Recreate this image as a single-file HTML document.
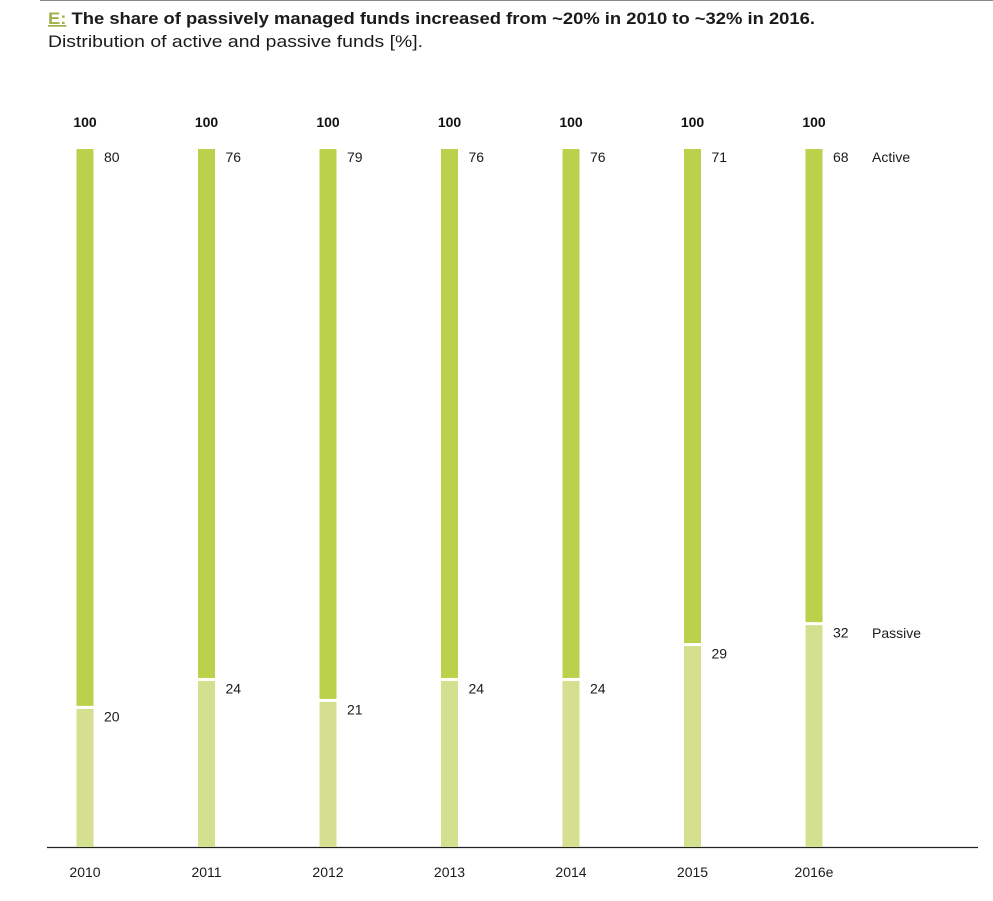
<!DOCTYPE html>
<html><head><meta charset="utf-8"><style>
html,body{margin:0;padding:0;background:#fff;}
svg{display:block;font-family:"Liberation Sans",sans-serif;}
</style></head><body>
<svg width="993" height="901" viewBox="0 0 993 901" xmlns="http://www.w3.org/2000/svg">
<line x1="40" y1="0.5" x2="993" y2="0.5" stroke="#888" stroke-width="1"/>
<text x="48" y="24" font-size="17" font-weight="bold" fill="#1a1a1a" textLength="767" lengthAdjust="spacingAndGlyphs"><tspan fill="#9fb24a" text-decoration="underline">E:</tspan> The share of passively managed funds increased from ~20% in 2010 to ~32% in 2016.</text>
<text x="48" y="47" font-size="17" fill="#1a1a1a" textLength="375" lengthAdjust="spacingAndGlyphs">Distribution of active and passive funds [%].</text>
<g id="bars"></g>
<line x1="47" y1="847.5" x2="978" y2="847.5" stroke="#222" stroke-width="1.2"/>
<g font-size="14" fill="#1a1a1a">
<!-- generated below -->
</g>
<script>
const s=document.querySelector('svg');
const ns='http://www.w3.org/2000/svg';
const years=['2010','2011','2012','2013','2014','2015','2016e'];
const pas=[20,24,21,24,24,29,32];
const act=[80,76,79,76,76,71,68];
function el(t,a,txt){const e=document.createElementNS(ns,t);for(const k in a)e.setAttribute(k,a[k]);if(txt!==undefined)e.textContent=txt;s.appendChild(e);return e;}
for(let i=0;i<7;i++){
 const c=85+i*121.5, x=c-8.5;
 const d=847-pas[i]*6.98;
 el('rect',{x:x,y:d+1.5,width:17,height:847-d-1.5,fill:'#d4e08f'});
 el('rect',{x:x,y:149,width:17,height:d-1.5-149,fill:'#bcd14b'});
 el('text',{x:c,y:127,'font-size':14,'font-weight':'bold','text-anchor':'middle',fill:'#111'},'100');
 el('text',{x:c+19,y:162,'font-size':14,fill:'#1a1a1a'},String(act[i]));
 el('text',{x:c+19,y:d+14,'font-size':14,fill:'#1a1a1a'},String(pas[i]));
 el('text',{x:c,y:877,'font-size':14,'text-anchor':'middle',fill:'#1a1a1a'},years[i]);
}
el('text',{x:872,y:162,'font-size':14,fill:'#1a1a1a'},'Active');
el('text',{x:872,y:638,'font-size':14,fill:'#1a1a1a'},'Passive');
</script>
</svg>
</body></html>
